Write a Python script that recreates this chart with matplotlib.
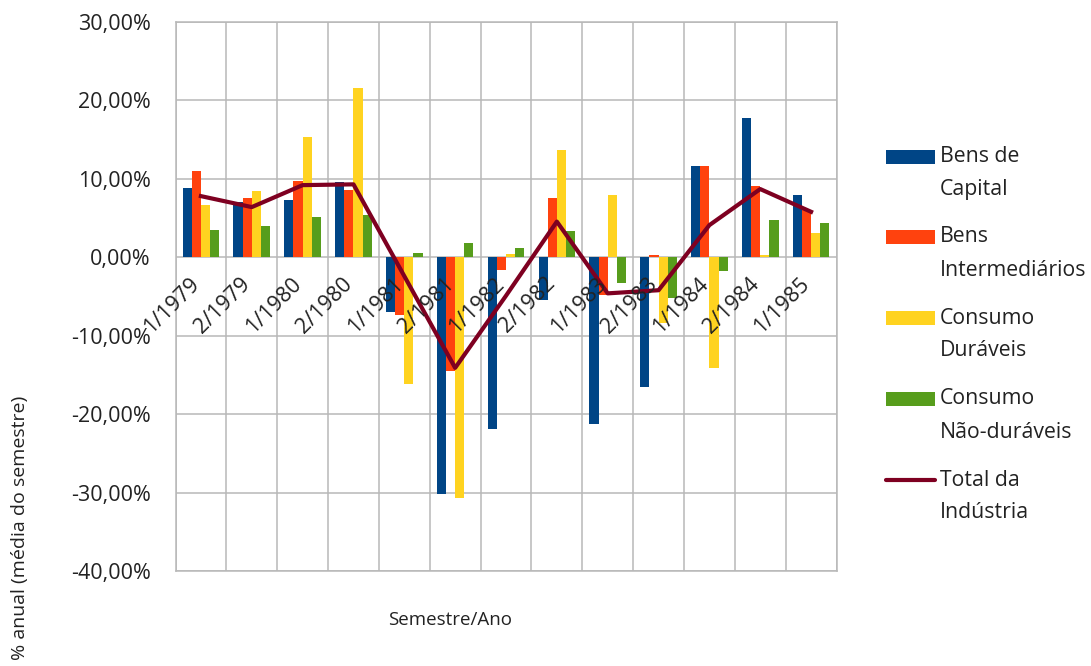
import matplotlib

matplotlib.use("Agg")
import matplotlib.pyplot as plt
import numpy as np
from matplotlib.lines import Line2D
from matplotlib.patches import Rectangle
from matplotlib.ticker import FuncFormatter, MultipleLocator
from matplotlib.transforms import offset_copy

plt.rcParams["font.family"] = ["Open Sans", "DejaVu Sans"]

# ── data (% anual, média do semestre) ─────────────────────────────────
semestres = ["1/1979", "2/1979", "1/1980", "2/1980", "1/1981", "2/1981", "1/1982",
             "2/1982", "1/1983", "2/1983", "1/1984", "2/1984", "1/1985"]
bens_capital = [8.8, 7.1, 7.35, 9.65, -7.0, -30.2, -21.9, -5.5, -21.3, -16.5, 11.6, 17.8, 7.95]
bens_intermediarios = [11.0, 7.55, 9.7, 8.6, -7.3, -14.5, -1.6, 7.6, -4.8, 0.25, 11.6, 9.05, 6.0]
consumo_duraveis = [6.7, 8.4, 15.4, 21.6, -16.2, -30.7, 0.45, 13.7, 7.95, -8.4, -14.1, 0.3, 3.05]
consumo_nao_duraveis = [3.5, 3.95, 5.2, 5.4, 0.5, 1.8, 1.15, 3.3, -3.3, -5.2, -1.8, 4.75, 4.35]
total_industria = [7.8, 6.4, 9.2, 9.3, -2.4, -14.1, -4.9, 4.55, -4.6, -4.2, 4.1, 8.7, 5.8]

bar_labels = ["Bens de\nCapital", "Bens\nIntermediários", "Consumo\nDuráveis", "Consumo\nNão-duráveis"]
bar_colors = ["#004586", "#ff420e", "#ffd320", "#579d1c"]
line_label = "Total da\nIndústria"
line_color = "#7e0021"

W, H = 1091, 666
GRID = "#b8b8b8"
TEXT = "#222222"

fig = plt.figure(figsize=(W / 100, H / 100), dpi=100)
ax = fig.add_axes([175.5 / W, 1 - 571 / H, 661 / W, 549 / H])

x = np.arange(len(semestres))
width = 0.18
for k, vals in enumerate([bens_capital, bens_intermediarios, consumo_duraveis, consumo_nao_duraveis]):
    ax.bar(x + (k - 1.5) * width, vals, width, color=bar_colors[k], linewidth=0, zorder=2)
ax.plot(x, total_industria, color=line_color, lw=3, zorder=3)

ax.set_xlim(-0.5, len(semestres) - 0.5)
ax.set_ylim(-40, 30)
ax.set_xticks([])
ax.set_xticks(np.arange(-0.5, len(semestres), 1), minor=True)
ax.yaxis.set_major_locator(MultipleLocator(10))
ax.yaxis.set_major_formatter(FuncFormatter(lambda v, _: f"{v:.2f}%".replace(".", ",")))
ax.grid(which="minor", axis="x", color=GRID, lw=1.1, zorder=0)
ax.grid(which="major", axis="y", color=GRID, lw=1.1, zorder=0)
ax.set_axisbelow(True)
ax.tick_params(axis="both", which="both", length=0)
ax.tick_params(axis="y", pad=18, labelsize=15.5, labelcolor=TEXT)
for sp in ax.spines.values():
    sp.set_color(GRID)
    sp.set_linewidth(1.1)

# category labels sit just under the zero line
lab_trans = offset_copy(ax.transData, fig=fig, x=3, y=-16, units="dots")
for i, s in enumerate(semestres):
    ax.text(i, 0, s, transform=lab_trans, rotation=45, ha="right", va="top",
            fontsize=15.5, color=TEXT, zorder=4)

fig.text(450 / W, 1 - 620 / H, "Semestre/Ano", ha="center", va="center", fontsize=13.5, color=TEXT)
fig.text(20 / W, 1 - 528 / H, "% anual (média do semestre)", rotation=90, ha="center", va="center",
         fontsize=14, color=TEXT)

# ── legend ──
entry_y = [157, 237, 318, 399, 480]
labels = bar_labels + [line_label]
for k, (y, lab) in enumerate(zip(entry_y, labels)):
    if k < len(bar_colors):
        fig.add_artist(Rectangle((886 / W, 1 - (y + 7) / H), 49 / W, 14 / H,
                                 transform=fig.transFigure, color=bar_colors[k], lw=0))
    else:
        fig.add_artist(Line2D([886 / W, 935 / W], [1 - y / H] * 2, transform=fig.transFigure,
                              color=line_color, lw=3, solid_capstyle="round"))
    first, second = lab.split("\n")
    fig.text(940 / W, 1 - y / H, first, va="center", ha="left", fontsize=15.3, color=TEXT)
    fig.text(940 / W, 1 - (y + 33) / H, second, va="center", ha="left", fontsize=15.3, color=TEXT)

fig.savefig("out.png", dpi=100)
